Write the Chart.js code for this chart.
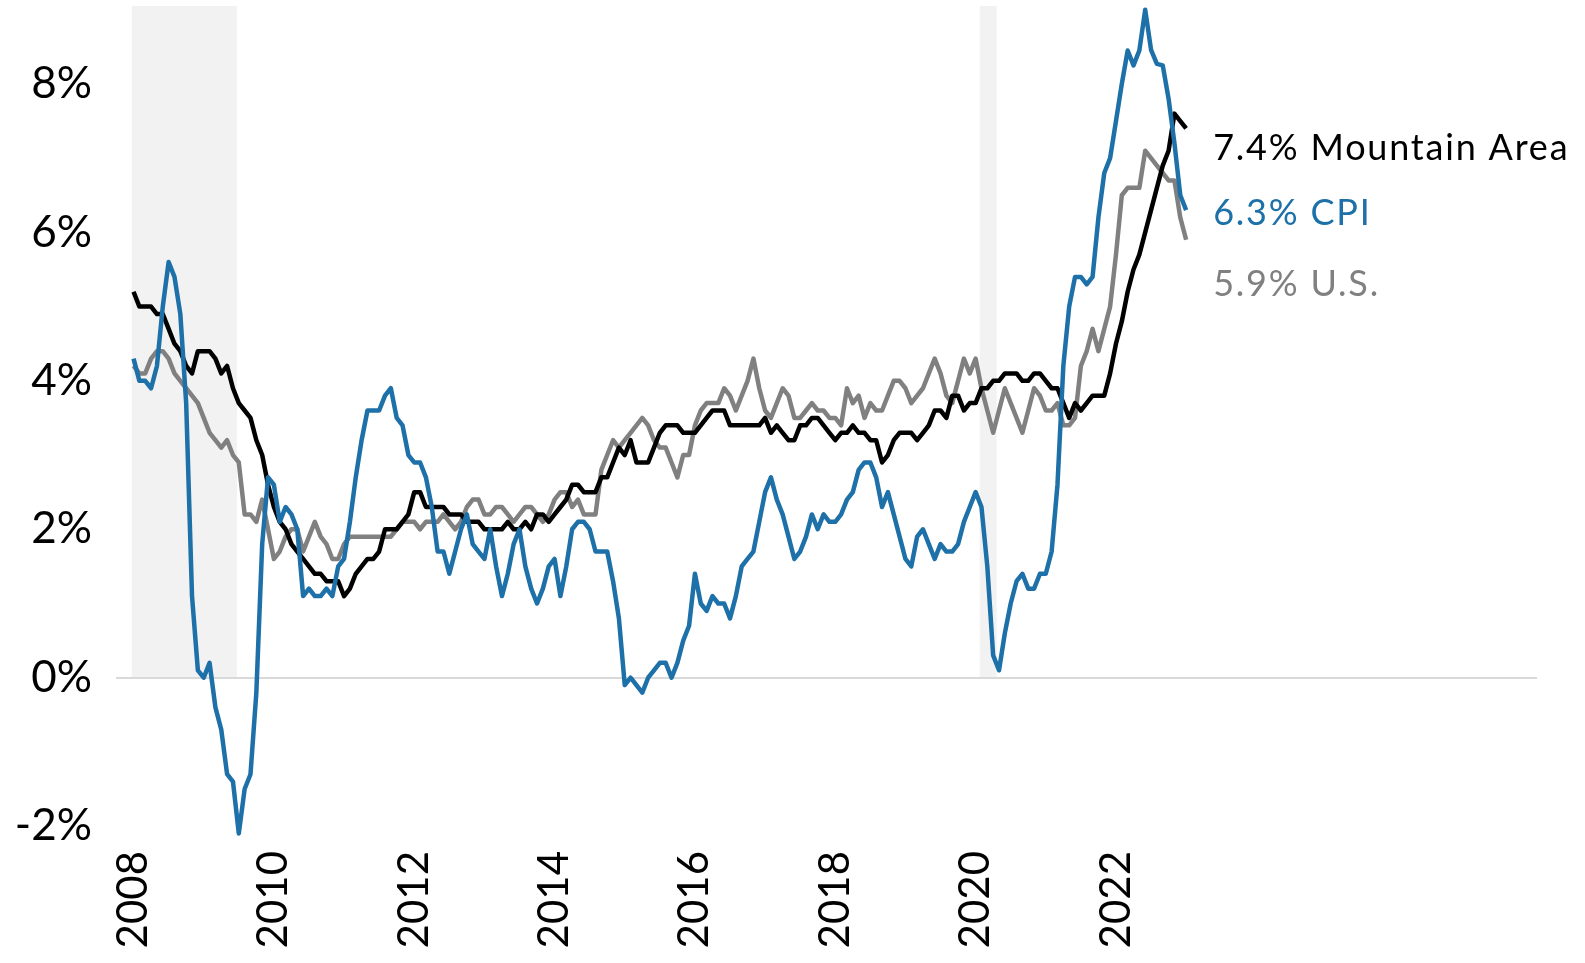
<!DOCTYPE html>
<html>
<head>
<meta charset="utf-8">
<script src="https://cdn.jsdelivr.net/npm/chart.js@4"></script>
<style>
  html, body { margin: 0; padding: 0; background: #fff; }
  #wrap { width: 1585px; height: 963px; position: relative; }
</style>
</head>
<body>
<div id="wrap"><canvas id="myChart"></canvas></div>
<script>
// monthly series, Jan 2008 .. Jan 2023 (index 0 = Jan 2008)
const startYear = 2008;
const yearTicks = [2008, 2010, 2012, 2014, 2016, 2018, 2020, 2022];
const yTicks = [-2, 0, 2, 4, 6, 8];

const cpi = [
  4.3, 4.0, 4.0, 3.9, 4.2, 5.0, 5.6, 5.4, 4.9, 3.7, 1.1, 0.1,
  0.0, 0.2, -0.4, -0.7, -1.3, -1.4, -2.1, -1.5, -1.3, -0.2, 1.8, 2.7,
  2.6, 2.1, 2.3, 2.2, 2.0, 1.1, 1.2, 1.1, 1.1, 1.2, 1.1, 1.5,
  1.6, 2.1, 2.7, 3.2, 3.6, 3.6, 3.6, 3.8, 3.9, 3.5, 3.4, 3.0,
  2.9, 2.9, 2.7, 2.3, 1.7, 1.7, 1.4, 1.7, 2.0, 2.2, 1.8, 1.7,
  1.6, 2.0, 1.5, 1.1, 1.4, 1.8, 2.0, 1.5, 1.2, 1.0, 1.2, 1.5,
  1.6, 1.1, 1.5, 2.0, 2.1, 2.1, 2.0, 1.7, 1.7, 1.7, 1.3, 0.8,
  -0.1, 0.0, -0.1, -0.2, 0.0, 0.1, 0.2, 0.2, 0.0, 0.2, 0.5, 0.7,
  1.4, 1.0, 0.9, 1.1, 1.0, 1.0, 0.8, 1.1, 1.5, 1.6, 1.7, 2.1,
  2.5, 2.7, 2.4, 2.2, 1.9, 1.6, 1.7, 1.9, 2.2, 2.0, 2.2, 2.1,
  2.1, 2.2, 2.4, 2.5, 2.8, 2.9, 2.9, 2.7, 2.3, 2.5, 2.2, 1.9,
  1.6, 1.5, 1.9, 2.0, 1.8, 1.6, 1.8, 1.7, 1.7, 1.8, 2.1, 2.3,
  2.5, 2.3, 1.5, 0.3, 0.1, 0.6, 1.0, 1.3, 1.4, 1.2, 1.2, 1.4,
  1.4, 1.7, 2.6, 4.2, 5.0, 5.4, 5.4, 5.3, 5.4, 6.2, 6.8, 7.0,
  7.5, 8.0, 8.45, 8.25, 8.45, 9.0, 8.46, 8.27, 8.25, 7.8, 7.2, 6.5,
  6.3
];

const mountain = [
  5.2, 5.0, 5.0, 5.0, 4.9, 4.9, 4.7, 4.5, 4.4, 4.2, 4.1, 4.4,
  4.4, 4.4, 4.3, 4.1, 4.2, 3.9, 3.7, 3.6, 3.5, 3.2, 3.0, 2.6,
  2.3, 2.1, 2.0, 1.8, 1.7, 1.6, 1.5, 1.4, 1.4, 1.3, 1.3, 1.3,
  1.1, 1.2, 1.4, 1.5, 1.6, 1.6, 1.7, 2.0, 2.0, 2.0, 2.1, 2.2,
  2.5, 2.5, 2.3, 2.3, 2.3, 2.3, 2.2, 2.2, 2.2, 2.1, 2.1, 2.1,
  2.0, 2.0, 2.0, 2.0, 2.1, 2.0, 2.0, 2.1, 2.0, 2.2, 2.2, 2.1,
  2.2, 2.3, 2.4, 2.6, 2.6, 2.5, 2.5, 2.5, 2.7, 2.7, 2.9, 3.1,
  3.0, 3.2, 2.9, 2.9, 2.9, 3.1, 3.3, 3.4, 3.4, 3.4, 3.3, 3.3,
  3.3, 3.4, 3.5, 3.6, 3.6, 3.6, 3.4, 3.4, 3.4, 3.4, 3.4, 3.4,
  3.5, 3.3, 3.4, 3.3, 3.2, 3.2, 3.4, 3.4, 3.5, 3.5, 3.4, 3.3,
  3.2, 3.3, 3.3, 3.4, 3.3, 3.3, 3.2, 3.2, 2.9, 3.0, 3.2, 3.3,
  3.3, 3.3, 3.2, 3.3, 3.4, 3.6, 3.6, 3.5, 3.8, 3.8, 3.6, 3.7,
  3.7, 3.9, 3.9, 4.0, 4.0, 4.1, 4.1, 4.1, 4.0, 4.0, 4.1, 4.1,
  4.0, 3.9, 3.9, 3.7, 3.5, 3.7, 3.6, 3.7, 3.8, 3.8, 3.8, 4.1,
  4.5, 4.8, 5.2, 5.5, 5.7, 6.0, 6.3, 6.6, 6.9, 7.1, 7.6, 7.5,
  7.4
];

const us = [
  4.2, 4.1, 4.1, 4.3, 4.4, 4.4, 4.3, 4.1, 4.0, 3.9, 3.8, 3.7,
  3.5, 3.3, 3.2, 3.1, 3.2, 3.0, 2.9, 2.2, 2.2, 2.1, 2.4, 2.0,
  1.6, 1.7, 1.9, 2.0, 2.0, 1.7, 1.9, 2.1, 1.9, 1.8, 1.6, 1.6,
  1.8, 1.9, 1.9, 1.9, 1.9, 1.9, 1.9, 1.9, 1.9, 2.0, 2.1, 2.1,
  2.1, 2.0, 2.1, 2.1, 2.1, 2.2, 2.1, 2.0, 2.1, 2.3, 2.4, 2.4,
  2.2, 2.2, 2.3, 2.3, 2.2, 2.1, 2.2, 2.3, 2.3, 2.2, 2.1, 2.2,
  2.4, 2.5, 2.5, 2.3, 2.4, 2.2, 2.2, 2.2, 2.8, 3.0, 3.2, 3.1,
  3.2, 3.3, 3.4, 3.5, 3.4, 3.2, 3.1, 3.1, 2.9, 2.7, 3.0, 3.0,
  3.4, 3.6, 3.7, 3.7, 3.7, 3.9, 3.8, 3.6, 3.8, 4.0, 4.3, 3.9,
  3.6, 3.5, 3.7, 3.9, 3.8, 3.5, 3.5, 3.6, 3.7, 3.6, 3.6, 3.5,
  3.5, 3.4, 3.9, 3.7, 3.8, 3.5, 3.7, 3.6, 3.6, 3.8, 4.0, 4.0,
  3.9, 3.7, 3.8, 3.9, 4.1, 4.3, 4.1, 3.8, 3.7, 4.0, 4.3, 4.1,
  4.3, 3.9, 3.6, 3.3, 3.6, 3.9, 3.7, 3.5, 3.3, 3.6, 3.9, 3.8,
  3.6, 3.6, 3.7, 3.4, 3.4, 3.5, 4.2, 4.4, 4.7, 4.4, 4.7, 5.0,
  5.7, 6.5, 6.6, 6.6, 6.6, 7.1, 7.0, 6.9, 6.8, 6.7, 6.7, 6.2,
  5.9
];

// recessions, in month index
const recessions = [[-0.3, 17.7], [144.7, 147.6]];

const BLUE = '#1D70A8';
const GREY = '#808080';
const FONT = 'Lato, "Open Sans", sans-serif';

const toXY = arr => arr.map((v, i) => ({ x: i, y: v }));

const shading = {
  id: 'shading',
  beforeDraw(chart) {
    const { ctx, chartArea, scales } = chart;
    ctx.save();
    ctx.fillStyle = '#F2F2F2';
    const y0 = scales.y.getPixelForValue(0);
    recessions.forEach(([a, b]) => {
      const x1 = scales.x.getPixelForValue(a);
      const x2 = scales.x.getPixelForValue(b);
      ctx.fillRect(x1, chartArea.top, x2 - x1, y0 - chartArea.top);
    });
    ctx.restore();
  }
};

const endLabels = {
  id: 'endLabels',
  afterDatasetsDraw(chart, args, opts) {
    const { ctx, scales } = chart;
    ctx.save();
    ctx.font = '36px ' + FONT;
    ctx.letterSpacing = '1.8px';
    ctx.textBaseline = 'middle';
    ctx.textAlign = 'left';
    const xEnd = scales.x.getPixelForValue(cpi.length - 1) + opts.gap;
    opts.items.forEach(it => {
      ctx.fillStyle = it.color;
      ctx.fillText(it.text, xEnd, scales.y.getPixelForValue(it.at));
    });
    ctx.restore();
  }
};

const ctx = document.getElementById('myChart').getContext('2d');
const myChart = new Chart(ctx, {
  type: 'line',
  data: {
    datasets: [
      { label: 'CPI', data: toXY(cpi), borderColor: BLUE, order: 0 },
      { label: 'Mountain Area', data: toXY(mountain), borderColor: '#000000', order: 1 },
      { label: 'U.S.', data: toXY(us), borderColor: GREY, order: 2 }
    ]
  },
  options: {
    responsive: true,
    maintainAspectRatio: false,
    animation: false,
    layout: { padding: { left: 15, right: 48, top: 6, bottom: 14 } },
    elements: {
      point: { radius: 0 },
      line: { borderWidth: 4.5, tension: 0, borderJoinStyle: 'round' }
    },
    plugins: {
      legend: { display: false },
      tooltip: { enabled: false },
      endLabels: {
        gap: 27,
        items: [
          { text: mountain[mountain.length - 1].toFixed(1) + '% Mountain Area', color: '#000000', at: 7.13 },
          { text: cpi[cpi.length - 1].toFixed(1) + '% CPI', color: BLUE, at: 6.26 },
          { text: us[us.length - 1].toFixed(1) + '% U.S.', color: GREY, at: 5.3 }
        ]
      }
    },
    scales: {
      x: {
        type: 'linear',
        min: -3,
        max: 240,
        afterBuildTicks: s => { s.ticks = yearTicks.map(y => ({ value: (y - startYear) * 12 })); },
        afterFit: s => { s.height = 108; s.paddingLeft = 0; s.paddingRight = 0; },
        grid: { display: false, drawTicks: false },
        border: { display: false },
        ticks: {
          autoSkip: false,
          maxRotation: 90,
          minRotation: 90,
          padding: 10,
          color: '#000',
          font: { family: FONT, size: 42 },
          callback: v => String(startYear + v / 12)
        }
      },
      y: {
        min: -2.2,
        max: 9.05,
        afterBuildTicks: s => { s.ticks = yTicks.map(v => ({ value: v })); },
        afterFit: s => { s.width = 101; s.paddingTop = 0; s.paddingBottom = 0; },
        grid: {
          drawTicks: false,
          lineWidth: 2,
          color: c => (c.tick && c.tick.value === 0 ? '#D9D9D9' : 'rgba(0,0,0,0)')
        },
        border: { display: false },
        ticks: {
          padding: 24,
          color: '#000',
          font: { family: FONT, size: 44 },
          callback: v => v + '%'
        }
      }
    }
  },
  plugins: [shading, endLabels]
});
</script>
</body>
</html>
